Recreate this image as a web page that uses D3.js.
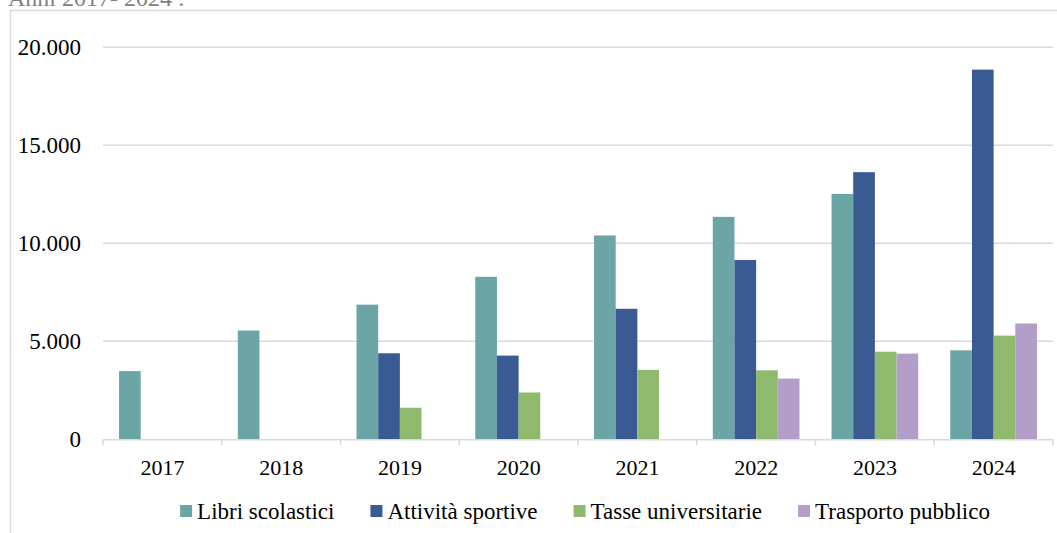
<!DOCTYPE html>
<html><head><meta charset="utf-8">
<script src="https://cdn.jsdelivr.net/npm/d3@7"></script>
<style>body{margin:0;background:#fff}svg{display:block}</style>
</head><body>
<svg id="c" width="1057" height="533"></svg>
<script>
const years = ["2017","2018","2019","2020","2021","2022","2023","2024"];
const seriesNames = ["Libri scolastici","Attività sportive","Tasse universitarie","Trasporto pubblico"];
const libri     = [3480, 5550, 6870, 8290, 10400, 11350, 12520, 4540];
const sport     = [null, null, 4390, 4270, 6660, 9150, 13630, 18860];
const tasse     = [null, null, 1610, 2390, 3540, 3520, 4470, 5290];
const trasporto = [null, null, null, null, null, 3100, 4370, 5910];
const yTicks = [0, 5000, 10000, 15000, 20000];
const colors = ["#6BA5A5","#3A5A93","#8FBA6D","#B39DC9"];

const series = [libri, sport, tasse, trasporto];
const font = "'Liberation Serif','Times New Roman',serif";
const svg = d3.select("#c");

// frame
svg.append("line").attr("x1",10.5).attr("x2",10.5).attr("y1",10).attr("y2",533).attr("stroke","#d9d9d9").attr("stroke-width",1.5);
svg.append("line").attr("x1",10).attr("x2",1057).attr("y1",10.5).attr("y2",10.5).attr("stroke","#d9d9d9").attr("stroke-width",1.5);
svg.append("text").attr("x",8).attr("y",6).attr("font-family",font).attr("font-size",24).attr("fill","#7f7f7f").text("Anni 2017- 2024 :");

const pLeft = 103, pRight = 1053, pTop = 47.3, pBottom = 439.3;
const x = d3.scaleBand().domain(years).range([pLeft, pRight]).paddingInner(0.27).paddingOuter(0.135);
const xs = d3.scaleBand().domain(d3.range(4)).range([0, x.bandwidth()]);
const y = d3.scaleLinear().domain([0, 20000]).range([pBottom, pTop]);
const xOuter = d3.scaleBand().domain(years).range([pLeft, pRight]);

// gridlines
svg.append("g").selectAll("line").data(yTicks.filter(d=>d>0)).join("line")
  .attr("x1",pLeft).attr("x2",pRight).attr("y1",d=>y(d)).attr("y2",d=>y(d))
  .attr("stroke","#d9d9d9").attr("stroke-width",1.5);

// y axis labels
const fmt = d => d3.format(",")(d).replace(/,/g,".");
svg.append("g").selectAll("text").data(yTicks).join("text")
  .attr("x",81).attr("y",d=>y(d)).attr("dy","0.35em").attr("text-anchor","end")
  .attr("font-family",font).attr("font-size",23).attr("fill","#000").text(fmt);

// bars
series.forEach((vals, si) => {
  svg.append("g").selectAll("rect").data(years.map((yr,i)=>({yr, v: vals[i]})).filter(d=>d.v!=null)).join("rect")
    .attr("x", d => x(d.yr) + xs(si))
    .attr("width", xs.bandwidth())
    .attr("y", d => y(d.v))
    .attr("height", d => y(0) - y(d.v))
    .attr("fill", colors[si]);
});

// x axis
const xAxis = svg.append("g");
xAxis.append("line").attr("x1",pLeft).attr("x2",pRight).attr("y1",pBottom+0.5).attr("y2",pBottom+0.5).attr("stroke","#d9d9d9").attr("stroke-width",1.5);
const bounds = years.map(d=>xOuter(d)).concat([pRight]);
xAxis.selectAll("line.t").data(bounds).join("line").attr("class","t")
  .attr("x1",d=>d).attr("x2",d=>d).attr("y1",pBottom).attr("y2",pBottom+6)
  .attr("stroke","#d9d9d9").attr("stroke-width",1.5);
xAxis.selectAll("text").data(years).join("text")
  .attr("x",d=>xOuter(d)+xOuter.bandwidth()/2).attr("y",475).attr("text-anchor","middle")
  .attr("font-family",font).attr("font-size",22).attr("fill","#000").text(d=>d);

// legend
const lg = svg.append("g");
const items = seriesNames.map((n,i)=>{
  const g = lg.append("g");
  g.append("rect").attr("width",12).attr("height",12).attr("y",-6).attr("fill",colors[i]);
  const t = g.append("text").attr("x",17).attr("y",0).attr("dy","0.33em").attr("font-family",font).attr("font-size",23).attr("fill","#000").text(n);
  return {g, w: 17 + t.node().getComputedTextLength()};
});
const gap = 36;
const total = d3.sum(items, d=>d.w) + gap*(items.length-1);
let cx = 585 - total/2;
items.forEach(it => { it.g.attr("transform",`translate(${cx},511)`); cx += it.w + gap; });
</script>
</body></html>
